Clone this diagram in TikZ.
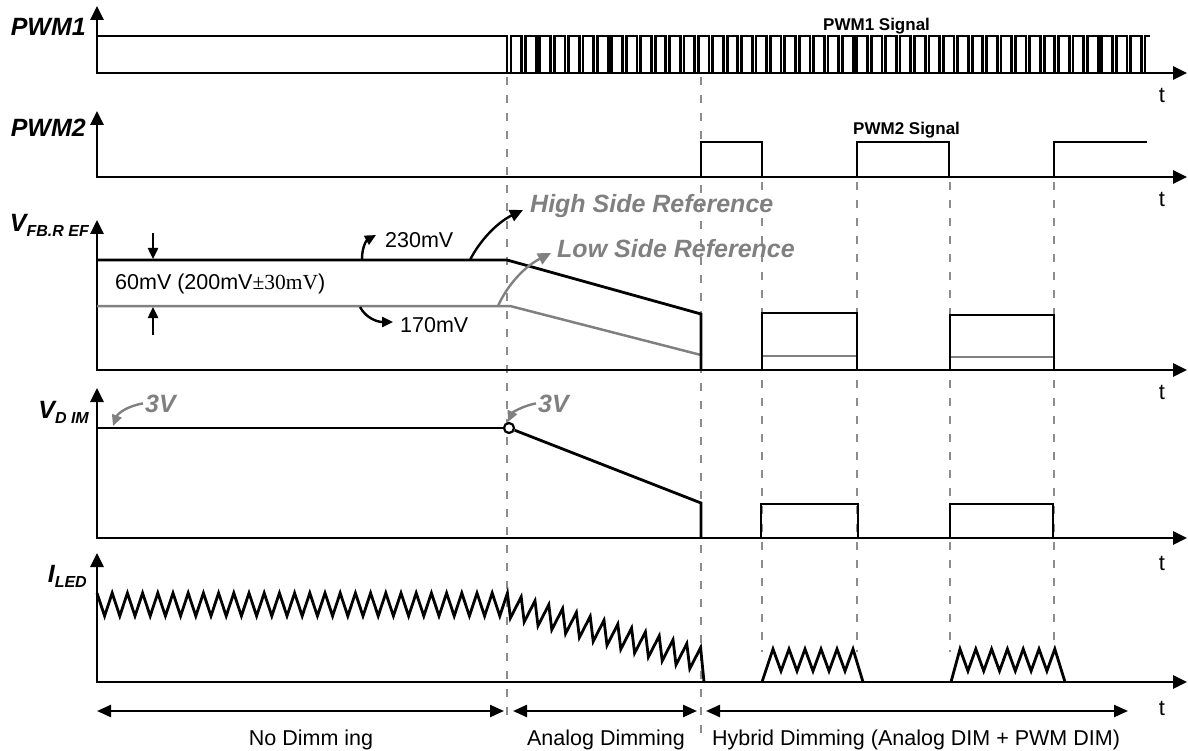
\documentclass[tikz,border=0pt]{standalone}
\usepackage{fontspec}
\setmainfont{Liberation Sans}
\newfontfamily\timesfont{Liberation Serif}
\usepackage{xcolor}
\usetikzlibrary{arrows.meta}
\definecolor{refgray}{RGB}{128,128,128}
\definecolor{dashgray}{RGB}{140,140,140}
\newcommand\lowsub[1]{\raisebox{-5pt}{\fontsize{16}{18}\selectfont #1}}

\begin{document}
\begin{tikzpicture}[x=1pt, y=-1pt,
  every node/.style={font=\fontsize{21.5}{25}\selectfont, inner sep=0pt},
  axis/.style   ={line width=2.8pt, {Triangle[length=14pt,width=13pt]}-{Triangle[length=14pt,width=13pt]}},
  sig/.style    ={line width=2.8pt, line join=miter},
  lowref/.style ={line width=2.5pt, draw=refgray},
  guide/.style  ={line width=2.2pt, draw=dashgray, dash pattern=on 8pt off 10pt},
  axlabel/.style={font=\fontsize{25}{29}\selectfont\bfseries\itshape, anchor=base east},
  note/.style   ={font=\fontsize{25}{29}\selectfont\bfseries\itshape, text=refgray, anchor=base west},
  tag/.style    ={font=\fontsize{17}{20}\selectfont\bfseries, anchor=base west},
  callout/.style={-{Triangle[length=11pt,width=10pt]}, line width=2.4pt},
  span/.style   ={{Triangle[length=14pt,width=12pt]}-{Triangle[length=14pt,width=12pt]}, line width=2.4pt}
]
\useasboundingbox (0,0) rectangle (1188,751);

\foreach \x/\y in {507/722,701/738} \draw[guide] (\x,77) -- (\x,\y);
\foreach \x in {762,857,950,1054} \draw[guide] (\x,182) -- (\x,652);

\draw[axis] (97,6) -- (97,73) -- (1187,73);
\draw[axis] (97,111) -- (97,177) -- (1187,177);
\draw[axis] (97,220) -- (97,370) -- (1187,370);
\draw[axis] (97,388) -- (97,538) -- (1187,538);
\draw[axis] (97,553) -- (97,682) -- (1187,682);

\node[axlabel] (pwmone) at (86,36) {PWM1};
\node[axlabel] (pwmtwo) at (86,137) {PWM2};
\node[axlabel] (vfb) at (89,232) {V\lowsub{FB.R EF}};
\node[axlabel] (vdim) at (89,418) {V\lowsub{D IM}};
\node[axlabel] (iled) at (87,582) {I\lowsub{LED}};
\foreach \y/\n in {103/ta,207/tb,399/tc,570/td,715/te}
  \node[anchor=base, font=\fontsize{22}{26}\selectfont] (\n) at (1162,\y) {t};

\node[tag] (pwmonesig) at (823,31) {PWM1 Signal};
\node[tag] (pwmtwosig) at (853,135) {PWM2 Signal};
\draw[sig] (97,36) -- (507,36) -- (507,73) -- (511,73)
  \foreach \k in {1,...,44} { -- ++(0,-37) -- ++(10.7,0) -- ++(0,37) -- ++(3.71,0) }
  -- ++(0,-37) -- ++(5,0);
\draw[sig] (97,177) -- (701,177) |- (762,142) |- (857,177) |- (949,142) |- (1054,177) |- (1147,142);

\draw[lowref] (97,306) -- (510,306) -- (701,355);
\draw[lowref] (762,356) -- (857,356);
\draw[lowref] (950,357) -- (1054,357);
\draw[sig] (97,260) -- (507,260) -- (701,314) -- (701,370);
\draw[sig] (762,370) |- (857,313) -- (857,370);
\draw[sig] (950,370) |- (1054,315) -- (1054,370);
\draw[callout] (153,233) -- (153,259);
\draw[callout] (153,335) -- (153,307);
\node[anchor=base west] (band) at (115,290) {60mV (200mV{\timesfont ±30mV})};
\node[anchor=base west] (hi) at (385,248) {230mV};
\node[anchor=base west] (lo) at (400,332) {170mV};
\draw[callout] (362,259) .. controls (362,246) and (367,240) .. (376,235);
\draw[callout] (360,307) .. controls (366,318) and (377,322) .. (393,322);
\node[note] (hsr) at (530,213) {High Side Reference};
\node[note] (lsr) at (557,258) {Low Side Reference};
\draw[callout, -{Triangle[length=13pt,width=12pt]}] (470,260) .. controls (480,240) and (498,222) .. (523,210);
\draw[callout, draw=refgray, -{Triangle[length=13pt,width=12pt]}] (498,306) .. controls (506,288) and (522,268) .. (551,253);

\node[circle, draw, line width=2.2pt, fill=white, minimum size=10pt] (knee) at (509,428) {};
\draw[sig] (97,428) -- (knee);
\draw[sig] (knee) -- (701,503) -- (701,538);
\draw[sig] (761,538) |- (858,504) -- (858,538);
\draw[sig] (950,538) |- (1053,504) -- (1053,538);
\node[note] (va) at (145,412) {3V};
\node[note] (vb) at (538,412) {3V};
\draw[callout, draw=refgray] ([xshift=-2pt]va.west) .. controls (128,406) and (118,413) .. (113,426);
\draw[callout, draw=refgray] ([xshift=-2pt]vb.west) .. controls (522,406) and (512,413) .. (508,422);

\draw[sig] (97,593) \foreach \k in {1,...,27} { -- ++(7.6,23) -- ++(7.6,-23) }
  \foreach \k in {1,...,14} { -- ++(3,25) -- ++(10.8,-21.1) } -- (704,682);
\draw[sig] (762,682) -- (773,649) \foreach \k in {1,...,5} { -- ++(8,22) -- ++(8,-22) } -- (863,682);
\draw[sig] (951,682) -- (960,649) \foreach \k in {1,...,6} { -- ++(7.9,22) -- ++(7.9,-22) } -- (1065,682);

\draw[span] (97,711) -- (504,711);
\draw[span] (513,711) -- (697,711);
\draw[span] (706,711) -- (1128,711);
\node[anchor=base] (nodim) at (311,745) {No Dimm ing};
\node[anchor=base] (anadim) at (606,745) {Analog Dimming};
\node[anchor=base] (hybdim) at (916,745) {Hybrid Dimming (Analog DIM + PWM DIM)};
\end{tikzpicture}
\end{document}
